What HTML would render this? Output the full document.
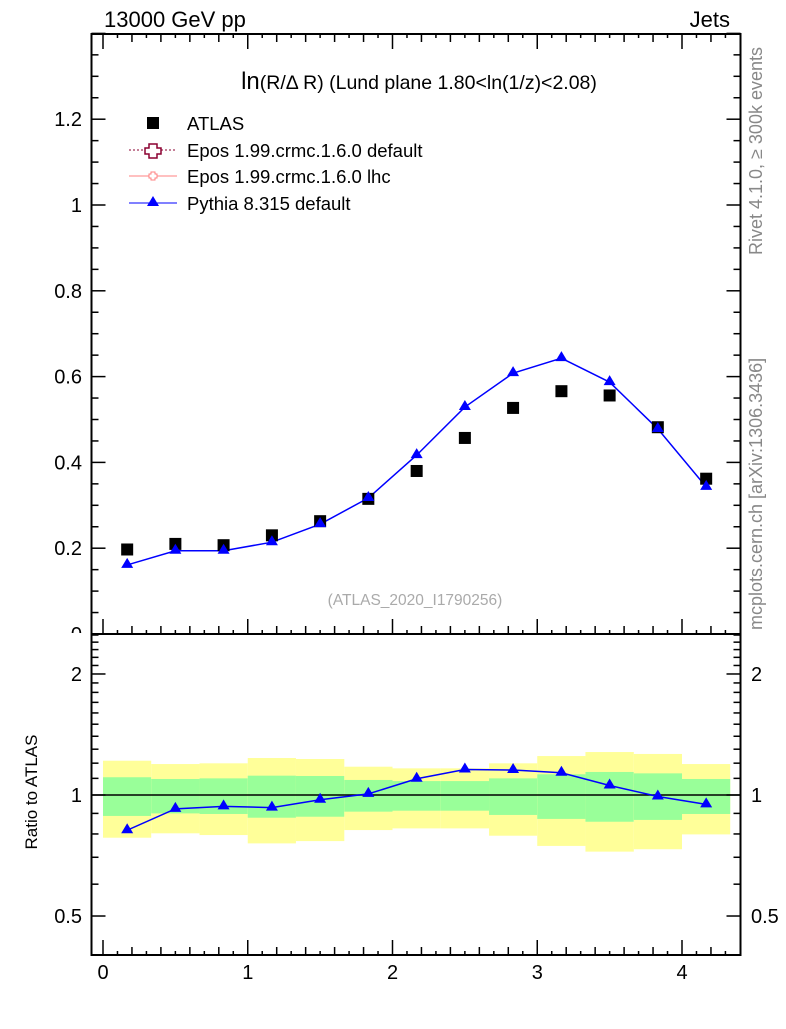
<!DOCTYPE html>
<html><head><meta charset="utf-8"><style>
body{margin:0;background:#fff;}
svg{font-family:"Liberation Sans",sans-serif;}
</style></head><body>
<svg id="c" width="786" height="1024" xmlns="http://www.w3.org/2000/svg">
<defs><clipPath id="clipTop"><rect x="0" y="0" width="786" height="633"/></clipPath></defs>
<text x="104" y="27" font-size="22">13000 GeV pp</text>
<text x="730" y="27" font-size="22" text-anchor="end">Jets</text>
<text x="0" y="0" font-size="18" fill="#888" transform="translate(762,255) rotate(-90)">Rivet 4.1.0, ≥ 300k events</text>
<text x="0" y="0" font-size="18" fill="#888" transform="translate(762,630) rotate(-90)">mcplots.cern.ch [arXiv:1306.3436]</text>
<text x="419" y="89" font-size="19.5" text-anchor="middle"><tspan font-size="24">ln</tspan>(R/Δ R) (Lund plane 1.80&lt;ln(1/z)&lt;2.08)</text>
<text x="415" y="605" font-size="15.5" fill="#aaa" text-anchor="middle">(ATLAS_2020_I1790256)</text>
<text x="0" y="0" font-size="17" text-anchor="middle" transform="translate(37,792) rotate(-90)">Ratio to ATLAS</text>
<g id="bands"></g><g id="ticks"></g><g id="marks"></g>
<rect x="91.5" y="34" width="649" height="600" fill="none" stroke="#000" stroke-width="2"/>
<rect x="91.5" y="634" width="649" height="321" fill="none" stroke="#000" stroke-width="2"/>
<g>
<rect x="147" y="117" width="12" height="12" fill="#000"/>
<text x="187" y="130" font-size="18.5">ATLAS</text>
<line x1="129" y1="150" x2="177" y2="150" stroke="#8b0030" stroke-dasharray="2,2"/>
<path d="M149,144h8v4h4v6h-4v4h-8v-4h-4v-6h4z" fill="#fff" stroke="#8b0030" stroke-width="1.5"/>
<text x="187" y="157" font-size="18.5">Epos 1.99.crmc.1.6.0 default</text>
<line x1="129" y1="176" x2="177" y2="176" stroke="#ff8080"/>
<path d="M151,172h4v2h2v4h-2v2h-4v-2h-2v-4h2z" fill="#fff" stroke="#ff8080"/>
<text x="187" y="183" font-size="18.5">Epos 1.99.crmc.1.6.0 lhc</text>
<line x1="129" y1="203" x2="177" y2="203" stroke="#0000ff"/>
<path d="M153,196l6,10h-12z" fill="#0000ff"/>
<text x="187" y="210" font-size="18.5">Pythia 8.315 default</text>
</g>
</svg>
<script>
const binEdges=[0,0.333,0.667,1,1.333,1.667,2,2.333,2.667,3,3.333,3.667,4,4.333];
const xCenters=[0.167,0.5,0.833,1.167,1.5,1.833,2.167,2.5,2.833,3.167,3.5,3.833,4.167];
const atlas=[0.197,0.210,0.207,0.230,0.263,0.315,0.380,0.457,0.527,0.566,0.556,0.482,0.362];
const pythia=[0.161,0.194,0.194,0.214,0.256,0.317,0.417,0.529,0.608,0.643,0.587,0.478,0.343];
const yellowHi=[1.217,1.194,1.199,1.236,1.229,1.176,1.165,1.165,1.199,1.250,1.279,1.265,1.194];
const yellowLo=[0.783,0.803,0.795,0.758,0.768,0.818,0.826,0.826,0.792,0.747,0.723,0.733,0.798];
const greenHi=[1.107,1.096,1.100,1.117,1.115,1.090,1.083,1.083,1.100,1.126,1.141,1.132,1.096];
const greenLo=[0.887,0.900,0.897,0.878,0.883,0.909,0.914,0.914,0.892,0.872,0.858,0.867,0.897];
const xTicks=[0,1,2,3,4];
const yTicks=[0.2,0.4,0.6,0.8,1,1.2];
const rTicks=[0.5,1,2];
const NS='http://www.w3.org/2000/svg';
const X=v=>103+v*144.75;
const Y=v=>634-v*429;
const R=v=>795-Math.log10(v)*402;
function mk(p,t,a){const e=document.createElementNS(NS,t);for(const k in a)e.setAttribute(k,a[k]);document.getElementById(p).appendChild(e);return e;}
for(let i=0;i<atlas.length;i++){
 let e=mk('bands','rect',{x:X(binEdges[i]),y:R(yellowHi[i]),width:X(binEdges[i+1])-X(binEdges[i]),height:R(yellowLo[i])-R(yellowHi[i]),fill:'#ffff99'});
 
 
 e=mk('bands','rect',{x:X(binEdges[i]),y:R(greenHi[i]),width:X(binEdges[i+1])-X(binEdges[i]),height:R(greenLo[i])-R(greenHi[i]),fill:'#99ff99'});
 
 
}
let ref=mk('bands','line',{x1:91.5,x2:740.5,y1:R(1),y2:R(1),stroke:'#000','stroke-width':1.5});


for(let v=0;v<=4.35;v+=0.1){
 const k=Math.round(v*10);const len=k%10==0?15:(k%2==0?8:4);
 for(const base of [634,955]){mk('ticks','line',{x1:X(v),x2:X(v),y1:base,y2:base-len,stroke:'#000','stroke-width':1.5});}
 mk('ticks','line',{x1:X(v),x2:X(v),y1:34,y2:34+len,stroke:'#000','stroke-width':1.5});
}
xTicks.forEach(v=>{const t=mk('ticks','text',{x:X(v),y:979,'font-size':20,'text-anchor':'middle'});t.textContent=v;
 
 });
for(let k=0;k<=28;k++){const v=k*0.05;const len=k%4==0?14:7;
 mk('ticks','line',{x1:91.5,x2:91.5+len,y1:Y(v),y2:Y(v),stroke:'#000','stroke-width':1.5});
 mk('ticks','line',{x1:740.5,x2:740.5-len,y1:Y(v),y2:Y(v),stroke:'#000','stroke-width':1.5});}
yTicks.forEach(v=>{const t=mk('ticks','text',{x:82,y:Y(v)+7,'font-size':20,'text-anchor':'end'});t.textContent=v;
 
 });
const t0=mk('ticks','text',{x:82,y:641,'font-size':20,'text-anchor':'end','clip-path':'url(#clipTop)'});t0.textContent='0';


for(let k=4;k<=25;k++){const v=k/10;const len=(k==5||k==10||k==20)?14:7;
 mk('ticks','line',{x1:91.5,x2:91.5+len,y1:R(v),y2:R(v),stroke:'#000','stroke-width':1.5});
 mk('ticks','line',{x1:740.5,x2:740.5-len,y1:R(v),y2:R(v),stroke:'#000','stroke-width':1.5});}
rTicks.forEach(v=>{for(const [x,a] of [[82,'end'],[751,'start']]){const t=mk('ticks','text',{x:x,y:R(v)+7,'font-size':20,'text-anchor':a});t.textContent=v;
 
 }});
const pl=mk('marks','polyline',{points:xCenters.map((x,i)=>X(x)+','+Y(pythia[i])).join(' '),fill:'none',stroke:'#0000ff','stroke-width':1.5});


const ratio=pythia.map((p,i)=>p/atlas[i]);
const rl=mk('marks','polyline',{points:xCenters.map((x,i)=>X(x)+','+R(ratio[i])).join(' '),fill:'none',stroke:'#0000ff','stroke-width':1.5});


xCenters.forEach((x,i)=>{
 let e=mk('marks','rect',{x:X(x)-6,y:Y(atlas[i])-6,width:12,height:12,fill:'#000'});
 
 
 e=mk('marks','path',{d:`M${X(x)},${Y(pythia[i])-7}l6,10h-12z`,fill:'#0000ff'});
 
 
 e=mk('marks','path',{d:`M${X(x)},${R(ratio[i])-7}l6,10h-12z`,fill:'#0000ff'});
 
 
});
</script>
</body></html>
